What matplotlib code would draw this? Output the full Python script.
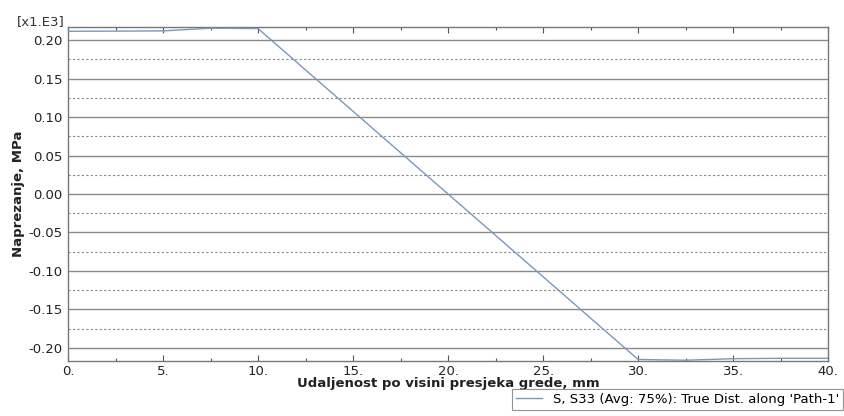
import matplotlib
matplotlib.use("Agg")
import matplotlib.pyplot as plt
from matplotlib.ticker import MultipleLocator

x_vals = [0.0, 2.5, 5.0, 7.5, 10.0, 30.0, 32.5, 35.0, 37.5, 40.0]
stress = [0.2115, 0.2117, 0.2120, 0.2155, 0.2150, -0.2150, -0.2160, -0.2140, -0.2135, -0.2135]
x_ticks = [0, 5, 10, 15, 20, 25, 30, 35, 40]
y_ticks = [0.20, 0.15, 0.10, 0.05, 0.00, -0.05, -0.10, -0.15, -0.20]
y_minor = [0.175, 0.125, 0.075, 0.025, -0.025, -0.075, -0.125, -0.175]

plt.rcParams['font.family'] = ['DejaVu Sans']
fig = plt.figure(figsize=(8.45, 4.16), dpi=100)
ax = fig.add_axes([0.0805, 0.1322, 0.8995, 0.8028])

for y in y_ticks:
    ax.axhline(y, color='#8a8a8a', lw=1.0, zorder=1)
for y in y_minor:
    ax.axhline(y, color='#8a8a8a', lw=0.8, ls=(0, (2, 2)), zorder=1)

ax.plot(x_vals, stress, color='#7b98b8', lw=1.0, zorder=3,
        label="S, S33 (Avg: 75%): True Dist. along 'Path-1'")

ax.set_xlim(0, 40)
ax.set_ylim(-0.217, 0.217)
ax.set_xticks(x_ticks)
ax.set_xticklabels([f"{v}." for v in x_ticks])
ax.xaxis.set_minor_locator(MultipleLocator(2.5))
ax.set_yticks(y_ticks)
ax.set_yticklabels([f"{v:.2f}" if abs(v) > 1e-9 else "0.00" for v in y_ticks])
ax.tick_params(axis='x', which='both', direction='in', top=True, length=4, width=0.8,
               color='#555555', labelsize=9.5, pad=3, labelcolor='#222222')
ax.tick_params(axis='x', which='minor', length=2.5)
ax.tick_params(axis='y', which='both', length=0, labelsize=9.5, pad=4, labelcolor='#222222')
for s in ax.spines.values():
    s.set_color('#777777')
    s.set_linewidth(1.0)

ax.set_xlabel("Udaljenost po visini presjeka grede, mm", fontsize=9.5, fontweight='bold',
              labelpad=-1, color='#222222')
ax.set_ylabel("Naprezanje, MPa", fontsize=9.5, fontweight='bold', labelpad=2.5, color='#222222')
fig.text(17 / 845, 1 - 25 / 416, "[x1.E3]", fontsize=9.5, color='#333333', va='baseline')

leg = ax.legend(loc='upper right', frameon=True, fancybox=False,
                fontsize=9.5, handlelength=2.0, borderpad=0.3, edgecolor='#777777',
                borderaxespad=0)
leg.set_bbox_to_anchor((1.0 - 2 / 845, 1 - 389 / 416), transform=fig.transFigure)
leg.get_frame().set_linewidth(0.8)

fig.savefig("out.png", dpi=100)
